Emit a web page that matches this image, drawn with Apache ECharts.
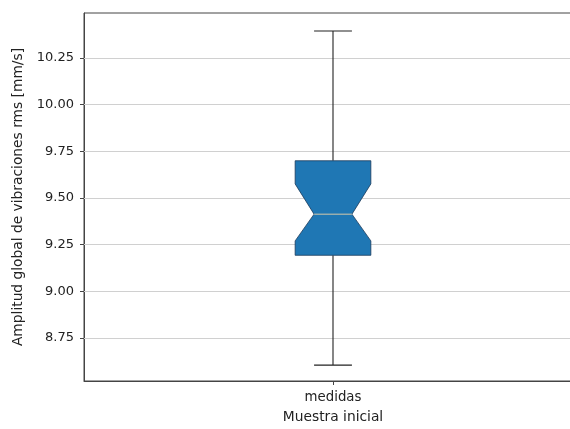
<!DOCTYPE html>
<html>
<head>
<meta charset="utf-8">
<script src="https://cdn.jsdelivr.net/npm/echarts@6/dist/echarts.min.js"></script>
<style>html,body{margin:0;padding:0;background:#fff;overflow:hidden;width:570px;height:429px}#c{width:582px;height:429px}</style>
</head>
<body>
<div id="c"></div>
<script>
const categories = ['medidas'];
const whiskerLow = [8.605];
const q1 = [9.193];
const notchLow = [9.27];
const median = [9.413];
const notchHigh = [9.575];
const q3 = [9.699];
const whiskerHigh = [10.394];
const yTicks = [8.75, 9.00, 9.25, 9.50, 9.75, 10.00, 10.25];
const yMin = 8.52, yMax = 10.49;

const FONT = 'DejaVu Sans';
const data = categories.map((c, i) => [i, whiskerLow[i], q1[i], notchLow[i], median[i], notchHigh[i], q3[i], whiskerHigh[i]]);

function renderItem(params, api) {
  const xi = api.value(0);
  const x = api.coord([xi, 0])[0];
  const Y = v => api.coord([xi, v])[1];
  const band = api.size([1, 0])[0];
  const bw = band * 0.152;
  const xl = x - bw / 2, xr = x + bw / 2;
  const xil = x - bw / 4, xir = x + bw / 4;
  const yWl = Y(api.value(1)), yQ1 = Y(api.value(2)), yNl = Y(api.value(3)), yMed = Y(api.value(4)),
        yNh = Y(api.value(5)), yQ3 = Y(api.value(6)), yWh = Y(api.value(7));
  const lineStyle = { stroke: '#222', lineWidth: 1.1, fill: null };
  return {
    type: 'group',
    children: [
      { type: 'line', shape: { x1: x, y1: yQ3, x2: x, y2: yWh }, style: lineStyle },
      { type: 'line', shape: { x1: x, y1: yQ1, x2: x, y2: yWl }, style: lineStyle },
      { type: 'line', shape: { x1: x - bw / 4, y1: yWh, x2: x + bw / 4, y2: yWh }, style: lineStyle },
      { type: 'line', shape: { x1: x - bw / 4, y1: yWl, x2: x + bw / 4, y2: yWl }, style: lineStyle },
      { type: 'polygon', shape: { points: [
          [xl, yQ1], [xl, yNl], [xil, yMed], [xl, yNh], [xl, yQ3],
          [xr, yQ3], [xr, yNh], [xir, yMed], [xr, yNl], [xr, yQ1]
        ] }, style: { fill: '#1f77b4', stroke: '#1a3a5a', lineWidth: 0.8 } },
      { type: 'line', shape: { x1: xil, y1: yMed, x2: xir, y2: yMed }, style: { stroke: '#d6c8a8', lineWidth: 1 } }
    ]
  };
}

const chart = echarts.init(document.getElementById('c'), null, { renderer: 'canvas', width: 582, height: 429 });
chart.setOption({
  animation: false,
  backgroundColor: '#fff',
  grid: { left: 84, top: 13, bottom: 45, right: 0, containLabel: false, show: true, borderColor: '#444', borderWidth: 1, backgroundColor: 'transparent' },
  xAxis: {
    type: 'category',
    data: categories,
    name: 'Muestra inicial',
    nameLocation: 'middle',
    nameGap: 29,
    nameTextStyle: { fontFamily: FONT, fontSize: 13.8, color: '#222' },
    axisLine: { show: true, lineStyle: { color: '#444', width: 1 } },
    axisTick: { show: true, alignWithLabel: true, length: 4, lineStyle: { color: '#444' } },
    axisLabel: { fontFamily: FONT, fontSize: 13.3, color: '#222', margin: 10 },
    splitLine: { show: false }
  },
  yAxis: {
    type: 'value',
    min: yMin,
    max: yMax,
    name: 'Amplitud global de vibraciones rms [mm/s]',
    nameLocation: 'middle',
    nameGap: 57,
    nameTextStyle: { fontFamily: FONT, fontSize: 13.8, color: '#222' },
    axisLine: { show: true, lineStyle: { color: '#444', width: 1 } },
    axisTick: { show: true, length: 4, lineStyle: { color: '#444' }, customValues: yTicks },
    axisLabel: { fontFamily: FONT, fontSize: 13, color: '#222', margin: 10, customValues: yTicks,
      formatter: v => v.toFixed(2) },
    splitLine: { show: false }
  },
  series: [
    {
      type: 'line',
      data: [],
      z: 1,
      markLine: {
        silent: true,
        z: 1,
        symbol: 'none',
        label: { show: false },
        lineStyle: { color: '#d0d0d0', width: 1, type: 'solid' },
        data: yTicks.map(v => ({ yAxis: v }))
      }
    },
    {
      type: 'custom',
      renderItem: renderItem,
      data: data,
      encode: { x: 0, y: [1, 2, 3, 4, 5, 6, 7] },
      z: 10
    }
  ]
});
</script>
</body>
</html>
